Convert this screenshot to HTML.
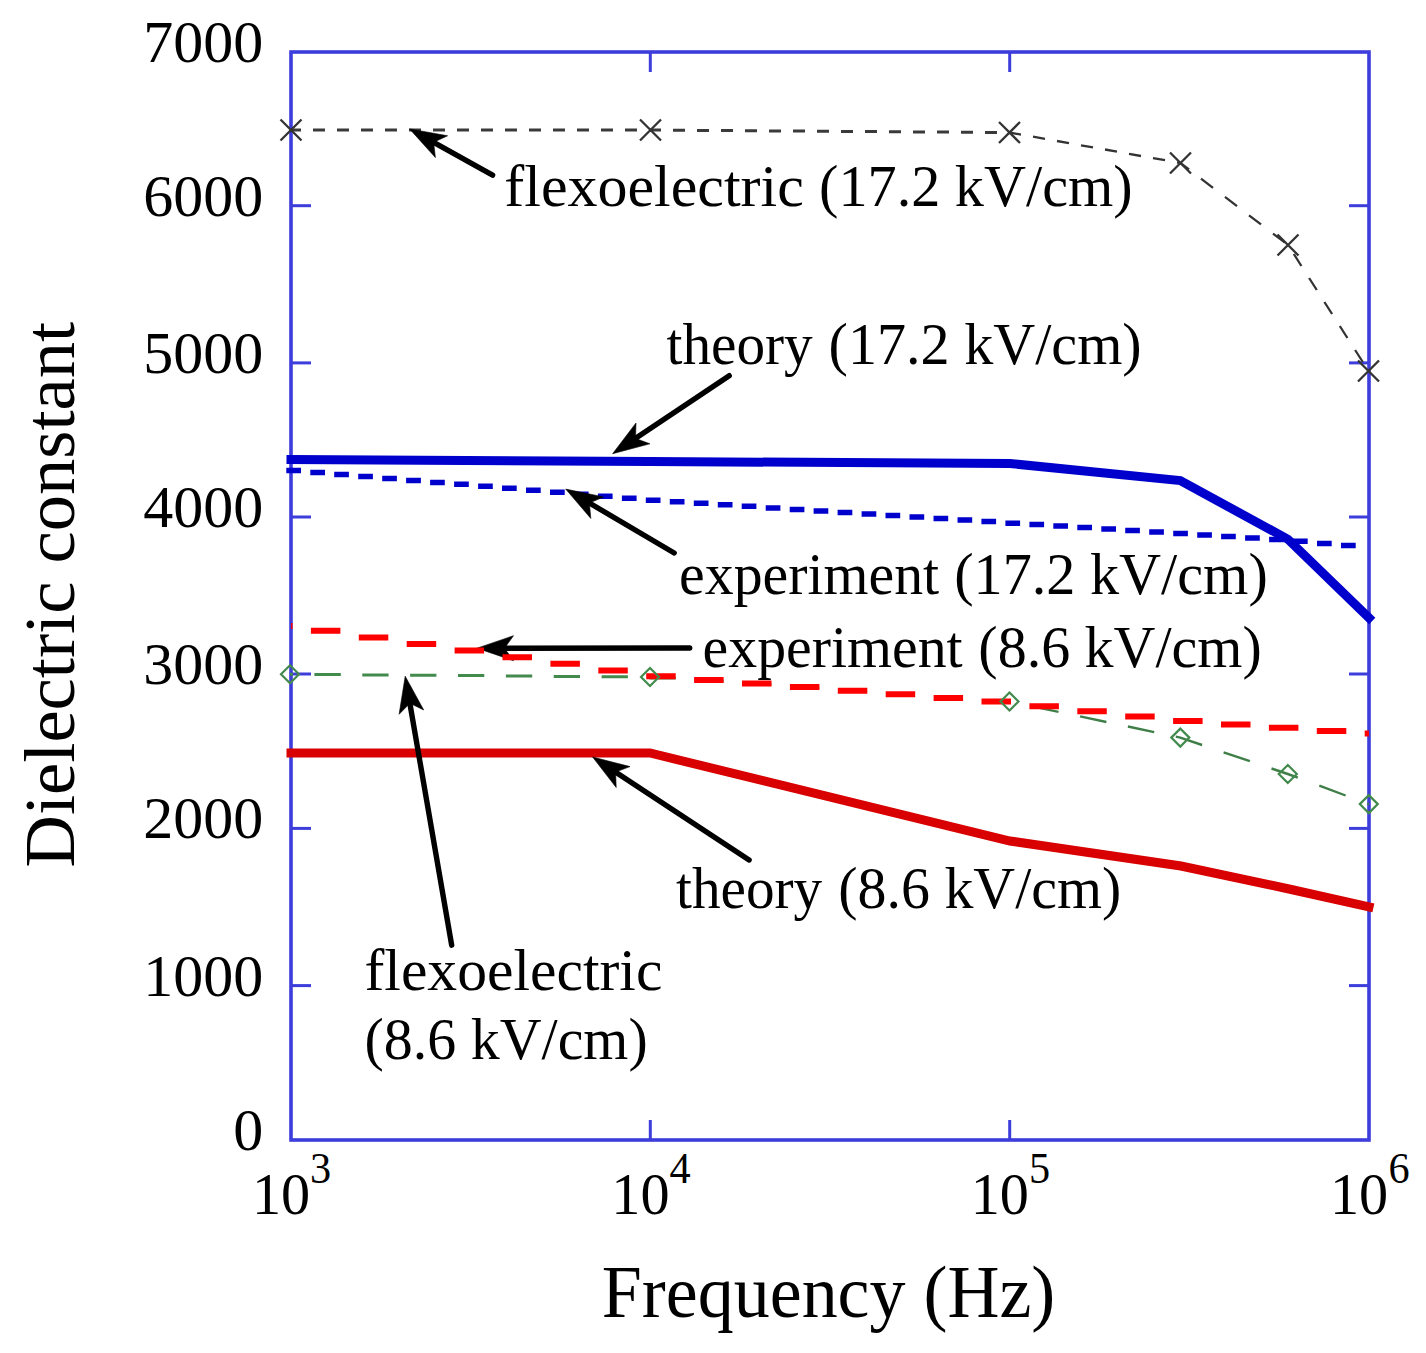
<!DOCTYPE html>
<html>
<head>
<meta charset="utf-8">
<style>
html,body{margin:0;padding:0;background:#fff;}
body{width:1426px;height:1353px;overflow:hidden;}
svg{display:block;}
text{font-family:"Liberation Serif",serif;fill:#000;}
</style>
</head>
<body>
<svg width="1426" height="1353" viewBox="0 0 1426 1353">
<rect x="0" y="0" width="1426" height="1353" fill="#fff"/>
<g stroke="#3d3ddc" fill="none"><rect x="291" y="52" width="1078" height="1088" stroke-width="3.6"/><g stroke-width="3"><line x1="291" y1="205.7" x2="311" y2="205.7"/><line x1="1349" y1="205.7" x2="1369" y2="205.7"/><line x1="291" y1="362.9" x2="311" y2="362.9"/><line x1="1349" y1="362.9" x2="1369" y2="362.9"/><line x1="291" y1="517" x2="311" y2="517"/><line x1="1349" y1="517" x2="1369" y2="517"/><line x1="291" y1="674" x2="311" y2="674"/><line x1="1349" y1="674" x2="1369" y2="674"/><line x1="291" y1="828.4" x2="311" y2="828.4"/><line x1="1349" y1="828.4" x2="1369" y2="828.4"/><line x1="291" y1="985.6" x2="311" y2="985.6"/><line x1="1349" y1="985.6" x2="1369" y2="985.6"/><line x1="650.3" y1="1140" x2="650.3" y2="1120"/><line x1="650.3" y1="52" x2="650.3" y2="72"/><line x1="1009.7" y1="1140" x2="1009.7" y2="1120"/><line x1="1009.7" y1="52" x2="1009.7" y2="72"/></g></g>
<path d="M291.0,130.0 L301.0,130.0M313.0,130.0 L325.0,130.0M337.0,130.0 L349.0,130.0M361.0,130.0 L373.0,130.0M385.0,130.0 L397.0,130.0M409.0,130.0 L421.0,130.0M433.0,130.0 L445.0,130.0M457.0,130.0 L469.0,130.0M481.0,130.0 L493.0,130.0M505.0,130.0 L517.0,130.0M529.0,130.0 L541.0,130.0M553.0,130.0 L565.0,130.0M577.0,130.0 L589.0,130.0M601.0,130.0 L613.0,130.0M625.0,130.0 L637.0,130.0M649.0,130.0 L661.0,130.0M673.0,130.2 L685.0,130.2M697.0,130.4 L709.0,130.4M721.0,130.5 L733.0,130.5M745.0,130.7 L757.0,130.7M769.0,130.9 L781.0,130.9M793.0,131.0 L805.0,131.0M817.0,131.2 L829.0,131.2M841.0,131.4 L853.0,131.4M865.0,131.5 L877.0,131.5M889.0,131.7 L901.0,131.7M913.0,131.9 L925.0,131.9M937.0,132.0 L949.0,132.0M961.0,132.2 L973.0,132.2M985.0,132.4 L997.0,132.4" fill="none" stroke="#3a3a3a" stroke-width="3"/>
<path d="M1009.0,132.5 L1009.5,132.5 L1021.0,134.6M1033.0,136.7 L1045.0,138.8M1057.0,141.0 L1069.0,143.1M1081.0,145.3 L1093.0,147.4M1105.0,149.5 L1117.0,151.7M1129.0,153.8 L1141.0,156.0M1153.0,158.1 L1165.0,160.2M1177.0,162.4 L1180.5,163.0 L1189.0,169.5M1201.0,178.6 L1213.0,187.8M1225.0,196.9 L1237.0,206.1M1249.0,215.3 L1261.0,224.4M1273.0,233.6 L1285.0,242.7M1293.8,254.0 L1301.4,266.0M1309.1,278.0 L1316.8,290.0M1324.4,302.0 L1332.1,314.0M1339.8,326.0 L1347.4,338.0M1355.1,350.0 L1362.8,362.0" fill="none" stroke="#333" stroke-width="2.3"/>
<path d="M286.3,470.4 L301.0,470.4M310.3,472.4 L325.0,472.4M334.2,474.4 L348.9,474.4M358.2,476.4 L372.9,476.4M382.2,478.4 L396.9,478.4M406.1,480.4 L420.9,480.4M430.1,482.4 L444.8,482.4M454.1,484.3 L468.8,484.3M478.1,486.3 L492.8,486.3M502.0,488.3 L516.7,488.3M526.0,490.3 L540.7,490.3M550.0,492.3 L564.7,492.3M573.9,494.3 L588.6,494.3M597.9,496.3 L612.6,496.3M621.9,498.3 L636.6,498.3M645.8,500.2 L660.5,500.2M669.8,501.7 L684.5,501.7M693.8,503.3 L708.5,503.3M717.8,504.8 L732.5,504.8M741.7,506.3 L756.4,506.3M765.7,507.9 L780.4,507.9M789.7,509.4 L804.4,509.4M813.6,510.9 L828.3,510.9M837.6,512.5 L852.3,512.5M861.6,514.0 L876.3,514.0M885.5,515.5 L900.2,515.5M909.5,517.1 L924.2,517.1M933.5,518.6 L948.2,518.6M957.5,520.1 L972.2,520.1M981.4,521.6 L996.1,521.6M1005.4,523.2 L1020.1,523.2M1029.4,524.6 L1044.1,524.6M1053.3,526.1 L1068.0,526.1M1077.3,527.5 L1092.0,527.5M1101.3,529.0 L1116.0,529.0M1125.2,530.5 L1139.9,530.5M1149.2,531.9 L1163.9,531.9M1173.2,533.4 L1187.9,533.4M1197.2,534.9 L1211.9,534.9M1221.1,536.4 L1235.8,536.4M1245.1,537.9 L1259.8,537.9M1269.1,539.4 L1283.8,539.4M1293.0,541.2 L1307.7,541.2M1317.0,543.4 L1331.7,543.4M1341.0,545.5 L1355.7,545.5" fill="none" stroke="#0000cc" stroke-width="5.5"/>
<path d="M290.0,674.2 L292.9,674.2M314.4,674.5 L340.8,674.5M362.3,674.9 L388.6,674.9M410.1,675.2 L436.4,675.2M458.0,675.6 L484.3,675.6M505.9,676.0 L532.2,676.0M553.7,676.4 L580.0,676.4M601.6,676.7 L627.9,676.7M649.4,677.9 L675.7,677.9M697.3,681.1 L723.6,681.1M745.1,684.4 L771.4,684.4M793.0,687.6 L819.3,687.6M840.8,690.9 L867.1,690.9M888.7,694.2 L915.0,694.2M936.5,697.4 L962.8,697.4M984.4,700.8 L1010.7,700.8" fill="none" stroke="#438a4d" stroke-width="3"/>
<path d="M1032.2,706.3 L1058.5,711.9M1080.1,716.4 L1106.4,722.0M1127.9,726.5 L1154.2,732.1M1175.8,736.6 L1180.3,737.6 L1202.1,745.0M1223.6,752.3 L1249.9,761.2M1271.5,768.5 L1287.8,774.0 L1297.8,777.7M1319.3,785.7 L1345.6,795.5M1367.2,803.5 L1368.8,804.1" fill="none" stroke="#3f7f47" stroke-width="2.4"/>
<polyline points="291,753 650,753 1010,841 1181,866 1289,889 1369,906.8" fill="none" stroke="#d80000" stroke-width="9" stroke-linecap="square"/>
<g stroke="#000" stroke-width="5.4" stroke-linecap="round"><line x1="492.6" y1="175.2" x2="431.9" y2="141.3"/><line x1="729.2" y1="375.7" x2="633.8" y2="439.5"/><line x1="674.2" y1="553" x2="587.7" y2="502.0"/><line x1="689.7" y1="648" x2="502.5" y2="648.2"/><line x1="749.1" y1="859.9" x2="613.9" y2="771.0"/><line x1="451.7" y1="945.2" x2="409.5" y2="701.3"/></g>
<g fill="#000" stroke="#000" stroke-width="0.6" stroke-linejoin="miter"><polygon points="409.6,128.9 435.4,157.6 433.6,142.3 447.6,135.8"/><polygon points="612.6,453.7 649.9,443.8 635.5,438.4 636.0,423.0"/><polygon points="565.7,489.1 590.8,518.4 589.4,503.1 603.5,496.9"/><polygon points="477.0,648.2 513.5,660.7 504.5,648.2 513.5,635.7"/><polygon points="592.6,757.0 616.2,787.5 615.6,772.1 630.0,766.6"/><polygon points="405.2,676.2 399.1,714.3 409.9,703.3 423.7,710.0"/></g>
<polyline points="291,459.5 650,461.5 1010,463.5 1180.3,480.6 1288,539.3 1369,617.8" fill="none" stroke="#0000cc" stroke-width="9" stroke-linecap="square"/>
<path d="M291.0,626.1 L292.5,626.1M310.9,630.8 L340.4,630.8M358.8,637.4 L388.3,637.4M406.7,644.0 L436.2,644.0M454.6,650.6 L484.1,650.6M502.5,657.2 L532.0,657.2M550.4,663.8 L579.9,663.8M598.3,670.4 L627.8,670.4M646.2,676.2 L675.7,676.2M694.1,679.9 L723.6,679.9M742.0,683.5 L771.5,683.5M789.9,687.1 L819.4,687.1M837.8,690.7 L867.3,690.7M885.7,694.3 L915.2,694.3M933.6,697.9 L963.1,697.9M981.5,701.5 L1011.0,701.5M1029.4,706.2 L1058.9,706.2M1077.3,711.3 L1106.8,711.3M1125.2,716.4 L1154.7,716.4M1173.1,721.1 L1202.6,721.1M1221.0,724.6 L1250.5,724.6M1268.9,727.8 L1298.4,727.8M1316.8,731.1 L1346.3,731.1M1364.7,733.6 L1369.0,733.6" fill="none" stroke="#ff0000" stroke-width="6"/>
<g stroke="#333" stroke-width="2.3" fill="none"><path d="M280.5,119.5L301.5,140.5M280.5,140.5L301.5,119.5M640.0,119.5L661.0,140.5M640.0,140.5L661.0,119.5M999.0,122.0L1020.0,143.0M999.0,143.0L1020.0,122.0M1170.0,152.5L1191.0,173.5M1170.0,173.5L1191.0,152.5M1277.5,234.5L1298.5,255.5M1277.5,255.5L1298.5,234.5M1358.0,360.5L1379.0,381.5M1358.0,381.5L1379.0,360.5"/></g>
<g stroke="#438a4d" stroke-width="2.2" fill="none"><path d="M290.0,665.2L299.0,674.2L290.0,683.2L281.0,674.2ZM650.0,668.0L659.0,677.0L650.0,686.0L641.0,677.0ZM1009.5,692.5L1018.5,701.5L1009.5,710.5L1000.5,701.5ZM1180.3,728.6L1189.3,737.6L1180.3,746.6L1171.3,737.6ZM1287.8,765.0L1296.8,774.0L1287.8,783.0L1278.8,774.0ZM1368.8,795.1L1377.8,804.1L1368.8,813.1L1359.8,804.1Z"/></g>
<g style="font-size:60px" text-anchor="end"><text x="263.2" y="62.0">7000</text><text x="263.2" y="215.7">6000</text><text x="263.2" y="372.9">5000</text><text x="263.2" y="527.0">4000</text><text x="263.2" y="684.0">3000</text><text x="263.2" y="838.4">2000</text><text x="263.2" y="995.6">1000</text><text x="263.2" y="1150.0">0</text></g>
<text style="font-size:60px" transform="translate(251.94,1213.5) scale(0.9717,1)">10</text>
<text style="font-size:45px" transform="translate(309.92,1183.3) scale(0.94,1)">3</text>
<text style="font-size:60px" transform="translate(611.24,1213.5) scale(0.9717,1)">10</text>
<text style="font-size:45px" transform="translate(669.40,1183.3) scale(0.94,1)">4</text>
<text style="font-size:60px" transform="translate(970.64,1213.5) scale(0.9717,1)">10</text>
<text style="font-size:45px" transform="translate(1029.02,1183.3) scale(0.94,1)">5</text>
<text style="font-size:60px" transform="translate(1329.94,1213.5) scale(0.9717,1)">10</text>
<text style="font-size:45px" transform="translate(1388.46,1183.3) scale(0.94,1)">6</text>
<text style="font-size:59.5px" transform="translate(504.29,206.0) scale(1.0078,1)">flexoelectric</text>
<text style="font-size:59.5px" transform="translate(819.04,206.0) scale(0.9787,1)">(17.2 kV/cm)</text>
<text style="font-size:59.5px" transform="translate(666.50,363.7) scale(0.9622,1)">theory</text>
<text style="font-size:59.5px" transform="translate(828.55,363.7) scale(0.9771,1)">(17.2 kV/cm)</text>
<text style="font-size:59.5px" transform="translate(679.06,593.6) scale(0.9722,1)">experiment</text>
<text style="font-size:59.5px" transform="translate(954.14,593.6) scale(0.9784,1)">(17.2 kV/cm)</text>
<text style="font-size:59.5px" transform="translate(702.56,666.6) scale(0.9722,1)">experiment</text>
<text style="font-size:59.5px" transform="translate(978.35,666.6) scale(0.9746,1)">(8.6 kV/cm)</text>
<text style="font-size:59.5px" transform="translate(676.00,908.2) scale(0.9622,1)">theory</text>
<text style="font-size:59.5px" transform="translate(838.35,908.2) scale(0.9728,1)">(8.6 kV/cm)</text>
<text style="font-size:59.5px" transform="translate(364.50,989.5) scale(1.0021,1)">flexoelectric</text>
<text style="font-size:59.5px" transform="translate(364.55,1059.0) scale(0.9739,1)">(8.6 kV/cm)</text>
<text style="font-size:73.5px" transform="translate(601.84,1316.8) scale(0.9791,1)">Frequency (Hz)</text>
<text style="font-size:72.5px" transform="translate(74,867.4) rotate(-90)">Dielectric constant</text>
</svg>
</body>
</html>
